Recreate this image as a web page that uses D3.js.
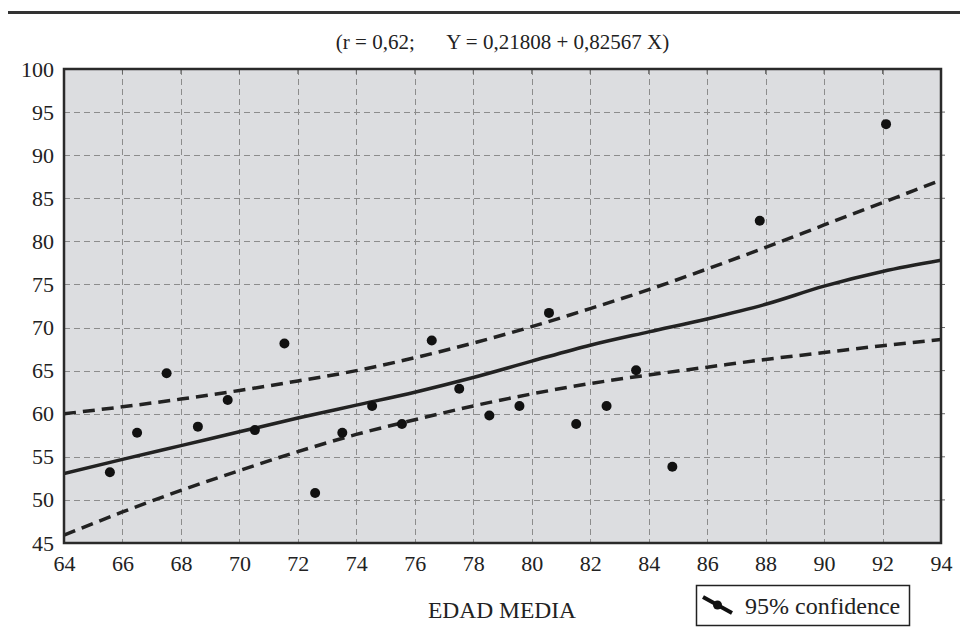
<!DOCTYPE html>
<html>
<head>
<meta charset="utf-8">
<script src="https://cdn.jsdelivr.net/npm/d3@7"></script>
<style>
  html, body { margin: 0; padding: 0; background: #fff; }
  svg { display: block; }
  text { font-family: "Liberation Serif", "Times New Roman", serif; fill: #222; }
</style>
</head>
<body>
<svg id="chart" width="960" height="638"></svg>
<script>
// ---- data ----
const titleText = "(r = 0,62;\u2003\u2002Y = 0,21808 + 0,82567 X)";
const xAxisTitle = "EDAD MEDIA";
const legendLabel = "95% confidence";

const xTicks = [64, 66, 68, 70, 72, 74, 76, 78, 80, 82, 84, 86, 88, 90, 92, 94];
const yTicks = [45, 50, 55, 60, 65, 70, 75, 80, 85, 90, 95, 100];

// scatter points
const pointX = [65.57, 66.5, 67.51, 68.58, 69.6, 70.53, 71.54, 72.59, 73.52, 74.54, 75.56,
                76.58, 77.52, 78.55, 79.58, 80.59, 81.52, 82.56, 83.57, 84.81, 87.8, 92.12];
const pointY = [53.2, 57.8, 64.7, 58.5, 61.6, 58.1, 68.15, 50.8, 57.8, 60.9, 58.8,
                68.5, 62.9, 59.8, 60.9, 71.7, 58.8, 60.9, 65.05, 53.85, 82.4, 93.6];

// fitted line and 95% confidence bands
const lineX  = [64, 66, 68, 70, 72, 74, 76, 78, 80, 82, 84, 86, 88, 90, 92, 94];
const fitY   = [53.05, 54.7, 56.3, 57.9, 59.5, 61.0, 62.5, 64.2, 66.1, 67.95, 69.5, 71.0, 72.7, 74.8, 76.5, 77.8];
const upperY = [60.0, 60.8, 61.7, 62.7, 63.8, 65.0, 66.5, 68.2, 70.1, 72.2, 74.4, 76.8, 79.3, 81.9, 84.5, 87.1];
const lowerY = [45.9, 48.6, 51.1, 53.4, 55.6, 57.6, 59.3, 60.9, 62.3, 63.5, 64.5, 65.4, 66.3, 67.1, 67.9, 68.6];

// ---- layout ----
const W = 960, H = 638;
const pLeft = 64, pRight = 941, pTop = 69, pBottom = 543;

const svg = d3.select("#chart");

const x = d3.scaleLinear().domain([64, 94]).range([pLeft, pRight]);
const y = d3.scaleLinear().domain([45, 100]).range([pBottom, pTop]);

// top rule
svg.append("line")
  .attr("x1", 8).attr("x2", W).attr("y1", 12.5).attr("y2", 12.5)
  .attr("stroke", "#333").attr("stroke-width", 3);

// title
svg.append("text")
  .attr("x", (pLeft + pRight) / 2).attr("y", 49)
  .attr("text-anchor", "middle")
  .style("font-size", "21px")
  .style("white-space", "pre")
  .text(titleText);

// plot background
svg.append("rect")
  .attr("x", pLeft).attr("y", pTop)
  .attr("width", pRight - pLeft).attr("height", pBottom - pTop)
  .attr("fill", "#dcdde0");

// grid
const grid = svg.append("g").attr("stroke", "#8c8c8c").attr("stroke-width", 1)
  .attr("stroke-dasharray", "6,4");
grid.selectAll("line.v").data(xTicks.slice(1, -1)).join("line")
  .attr("class", "v")
  .attr("x1", d => Math.round(x(d)) + 0.5).attr("x2", d => Math.round(x(d)) + 0.5)
  .attr("y1", pTop).attr("y2", pBottom);
grid.selectAll("line.h").data(yTicks.slice(1, -1)).join("line")
  .attr("class", "h")
  .attr("y1", d => Math.round(y(d)) + 0.5).attr("y2", d => Math.round(y(d)) + 0.5)
  .attr("x1", pLeft).attr("x2", pRight);

// axes (labels via d3 axes)
const xAxis = svg.append("g")
  .attr("transform", `translate(0,${pBottom})`)
  .call(d3.axisBottom(x).tickValues(xTicks).tickSize(0).tickPadding(12).tickFormat(d3.format("d")));
xAxis.select(".domain").remove();
xAxis.selectAll("text")
  .style("font-size", "22px")
  .style("font-family", "'Liberation Serif', serif")
  .attr("fill", "#222");

const yAxis = svg.append("g")
  .attr("transform", `translate(${pLeft},0)`)
  .call(d3.axisLeft(y).tickValues(yTicks).tickSize(0).tickPadding(10).tickFormat(d3.format("d")));
yAxis.select(".domain").remove();
yAxis.selectAll("text")
  .style("font-size", "22px")
  .style("font-family", "'Liberation Serif', serif")
  .attr("fill", "#222");

// small inner ticks on top and right edges
svg.append("g").selectAll("line").data(xTicks.slice(1, -1)).join("line")
  .attr("x1", d => x(d)).attr("x2", d => x(d))
  .attr("y1", pTop).attr("y2", pTop + 5)
  .attr("stroke", "#666").attr("stroke-width", 1);
svg.append("g").selectAll("line").data(yTicks.slice(1, -1)).join("line")
  .attr("y1", d => y(d)).attr("y2", d => y(d))
  .attr("x1", pRight).attr("x2", pRight + 4)
  .attr("stroke", "#666").attr("stroke-width", 1);

// clip for lines
svg.append("clipPath").attr("id", "clip")
  .append("rect").attr("x", pLeft).attr("y", pTop)
  .attr("width", pRight - pLeft).attr("height", pBottom - pTop);

const lineGen = d3.line().x(d => x(d[0])).y(d => y(d[1])).curve(d3.curveMonotoneX);
const plot = svg.append("g").attr("clip-path", "url(#clip)");

plot.append("path")
  .datum(lineX.map((v, i) => [v, upperY[i]]))
  .attr("d", lineGen).attr("fill", "none")
  .attr("stroke", "#222").attr("stroke-width", 3.5)
  .attr("stroke-dasharray", "12,7");
plot.append("path")
  .datum(lineX.map((v, i) => [v, lowerY[i]]))
  .attr("d", lineGen).attr("fill", "none")
  .attr("stroke", "#222").attr("stroke-width", 3.5)
  .attr("stroke-dasharray", "12,7");
plot.append("path")
  .datum(lineX.map((v, i) => [v, fitY[i]]))
  .attr("d", lineGen).attr("fill", "none")
  .attr("stroke", "#222").attr("stroke-width", 3.5);

// points
svg.append("g").selectAll("circle")
  .data(pointX.map((v, i) => [v, pointY[i]]))
  .join("circle")
  .attr("cx", d => x(d[0])).attr("cy", d => y(d[1]))
  .attr("r", 5).attr("fill", "#111");

// frame
svg.append("rect")
  .attr("x", pLeft).attr("y", pTop)
  .attr("width", pRight - pLeft).attr("height", pBottom - pTop)
  .attr("fill", "none").attr("stroke", "#2a2a2a").attr("stroke-width", 2.5);

// x axis title
svg.append("text")
  .attr("x", 502).attr("y", 618)
  .attr("text-anchor", "middle")
  .style("font-size", "23.5px")
  .text(xAxisTitle);

// legend
const lg = svg.append("g");
lg.append("rect")
  .attr("x", 696.5).attr("y", 585.5).attr("width", 213).attr("height", 40)
  .attr("fill", "#fff").attr("stroke", "#222").attr("stroke-width", 1.5);
lg.append("line")
  .attr("x1", 703).attr("y1", 597).attr("x2", 732).attr("y2", 613)
  .attr("stroke", "#111").attr("stroke-width", 4);
lg.append("circle").attr("cx", 717.5).attr("cy", 605).attr("r", 4.5).attr("fill", "#111");
lg.append("text")
  .attr("x", 745).attr("y", 614)
  .style("font-size", "24px")
  .text(legendLabel);
</script>
</body>
</html>
